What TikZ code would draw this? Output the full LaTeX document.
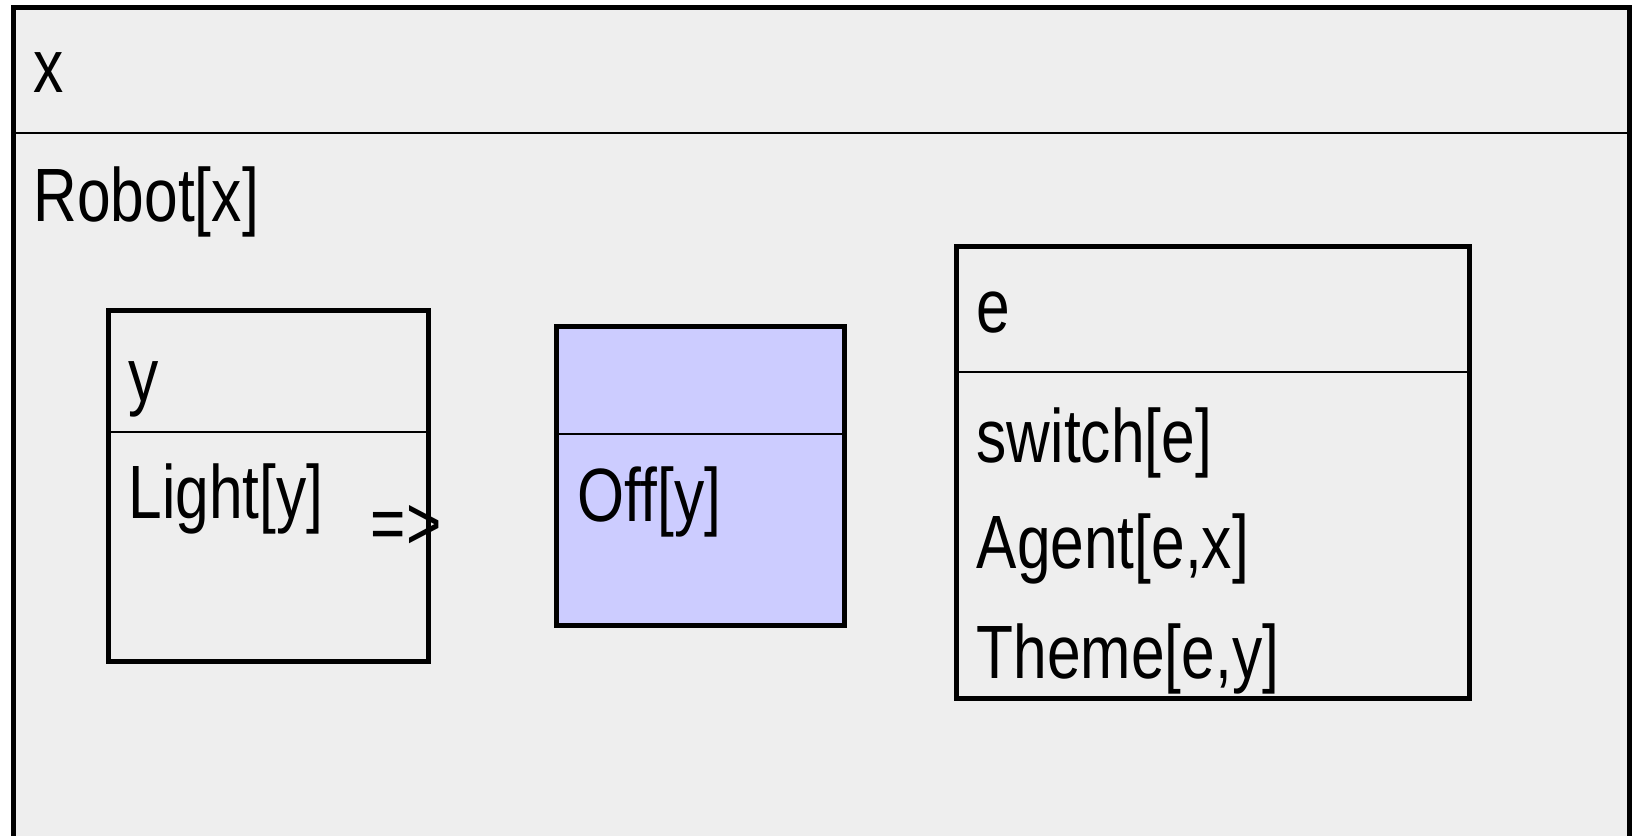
\documentclass[tikz,border=0pt]{standalone}
\usepackage{fontspec}
\setmainfont{Liberation Sans}[FakeStretch=0.8]
\usepackage{xcolor}
\usetikzlibrary{positioning}

\definecolor{drsgrey}{HTML}{EEEEEE}
\definecolor{drsblue}{HTML}{CCCCFF}

\begin{document}
\begin{tikzpicture}[
    x=0.1mm, y=-0.1mm,
    box/.style={draw, rectangle, line width=0.5mm, anchor=north west, inner sep=0pt},
    cond/.style={anchor=base west, inner sep=0pt, font=\fontsize{21.5pt}{25pt}\selectfont},
    rule/.style={line width=0.15mm}
]
    \useasboundingbox[fill=white] (0,0) rectangle (1635,835);

    % outer box: referent x
    \node[box, fill=drsgrey, minimum width=161.6mm, minimum height=90mm] (robot) at (11,5) {};
    \draw[rule] (robot.west |- 0,133) -- (robot.east |- 0,133);
    \node[cond] (xref) at (33,92) {x};
    \node[cond] (robotx) at (33,221) {Robot[x]};

    % antecedent
    \node[box, minimum width=32mm, minimum height=35.1mm] (light) at (106,308) {};
    \draw[rule] (light.west |- 0,432) -- (light.east |- 0,432);
    \node[cond] (yref) at (128,401) {y};
    \node[cond] (lighty) at (128,518) {Light[y]};

    % consequent
    \node[box, fill=drsblue, minimum width=28.8mm, minimum height=29.9mm] (off) at (554,324) {};
    \draw[rule] (off.west |- 0,434) -- (off.east |- 0,434);
    \node[cond] (offy) at (577,521) {Off[y]};

    \node[cond] (impl) at (370,549) {=>};

    % event
    \node[box, minimum width=51.3mm, minimum height=45.2mm] (event) at (954,244) {};
    \draw[rule] (event.west |- 0,372) -- (event.east |- 0,372);
    \node[cond] (eref) at (976,332) {e};
    \node[cond] (switche) at (976,462) {switch[e]};
    \node[cond] (agent) at (976,568) {Agent[e,x]};
    \node[cond] (theme) at (976,678) {Theme[e,y]};
\end{tikzpicture}
\end{document}
